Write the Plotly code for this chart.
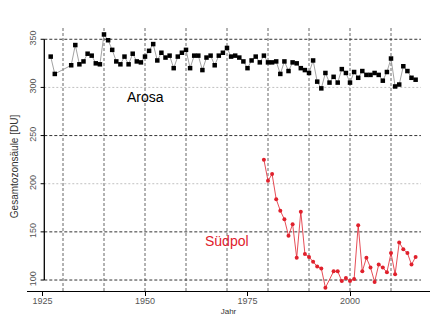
import plotly.graph_objects as go

arosa_years = [1927, 1928] + list(range(1932, 2017))
arosa_du = [332, 314,
            323, 344, 324, 327, 335, 333, 325, 324,
            355, 349, 339, 327, 324, 332, 324, 335, 327, 326,
            332, 338, 345, 328, 336, 331, 333, 320, 332, 336,
            339, 320, 333, 333, 318, 331, 333, 323, 333, 336,
            341, 332, 333, 331, 327, 320, 328, 332, 326, 333,
            326, 326, 327, 314, 327, 317, 326, 325, 320, 318,
            315, 328, 306, 299, 315, 305, 311, 305, 319, 315,
            305, 316, 310, 317, 313, 313, 315, 313, 307, 316,
            330, 301, 303, 322, 317, 310, 308]

sp_years = list(range(1979, 1995)) + list(range(1996, 2017))
sp_du = [225, 203, 210, 184, 172, 163, 146, 158, 123, 171,
         127, 124, 119, 114, 112, 92,
         109, 109, 99, 102, 99, 101, 157, 109, 123, 113,
         98, 116, 113, 108, 128, 106, 139, 132, 128, 116, 124]

x_ticks = [1925, 1950, 1975, 2000]
y_ticks = [100, 150, 200, 250, 300, 350]
v_grid = [1930, 1940, 1950, 1960, 1970, 1980, 1990, 2000, 2010]
h_grid_dark = [100, 150, 250, 350]
h_grid_light = [200, 300]

FONT = "Liberation Sans, Arial, sans-serif"
RED = "#e0202c"

X0, X1 = 1921.22, 2019.51
Y0, Y1 = 88.6, 361.7
yaxis_x = 1925.44      # position of the drawn y axis line
hgrid_end = 2017.3

fig = go.Figure()

shapes = []
for gx in v_grid:
    shapes.append(dict(type="line", xref="x", yref="paper", x0=gx, x1=gx, y0=0, y1=1,
                       line=dict(color="#666666", width=1, dash="3px,2px"), layer="below"))
for gy in h_grid_dark:
    shapes.append(dict(type="line", xref="x", yref="y", x0=yaxis_x, x1=hgrid_end, y0=gy, y1=gy,
                       line=dict(color="#333333", width=1, dash="3px,2px"), layer="below"))
for gy in h_grid_light:
    shapes.append(dict(type="line", xref="x", yref="y", x0=yaxis_x, x1=hgrid_end, y0=gy, y1=gy,
                       line=dict(color="#c0c0c0", width=1, dash="2px,2px"), layer="below"))
# y axis line + ticks (R style, from first to last tick)
shapes.append(dict(type="line", xref="x", yref="y", x0=yaxis_x, x1=yaxis_x,
                   y0=y_ticks[0], y1=y_ticks[-1], line=dict(color="black", width=1.3)))
for t in y_ticks:
    shapes.append(dict(type="line", xref="x", yref="y", x0=yaxis_x - 0.9, x1=yaxis_x,
                       y0=t, y1=t, line=dict(color="black", width=1)))

fig.add_trace(go.Scatter(x=arosa_years, y=arosa_du, mode="lines+markers",
                         line=dict(color="#8a8a8a", width=0.8),
                         marker=dict(symbol="square", size=4.5, color="black"),
                         cliponaxis=False, showlegend=False))
fig.add_trace(go.Scatter(x=sp_years, y=sp_du, mode="lines+markers",
                         line=dict(color=RED, width=0.8),
                         marker=dict(symbol="circle", size=4, color=RED),
                         cliponaxis=False, showlegend=False))

fig.add_annotation(x=1950, y=290, text="Arosa", showarrow=False,
                   font=dict(family=FONT, size=14, color="black"))
fig.add_annotation(x=1970, y=141, text="Südpol", showarrow=False,
                   font=dict(family=FONT, size=14, color=RED))
fig.add_annotation(xref="paper", yref="paper", x=-0.032, y=0.475, text="Gesamtozonsäule [DU]",
                   textangle=-90, showarrow=False, xanchor="center", yanchor="middle",
                   font=dict(family=FONT, size=10, color="#333333"))

# page body has an 8px default margin, so the figure is offset by 8px
fig.update_layout(
    width=432, height=315,
    margin=dict(l=19, r=10, t=20, b=32, autoexpand=False),
    paper_bgcolor="white", plot_bgcolor="white",
    font=dict(family=FONT),
    shapes=shapes,
    xaxis=dict(range=[X0, X1], showgrid=False, zeroline=False, automargin=False,
               showline=True, linecolor="black", linewidth=1.3,
               ticks="outside", ticklen=4, tickcolor="black", ticklabelstandoff=-3,
               tickvals=x_ticks, tickfont=dict(size=9, color="#555555", family=FONT),
               title=dict(text="Jahr", font=dict(size=8, color="#333333", family=FONT), standoff=3)),
    yaxis=dict(range=[Y0, Y1], showgrid=False, zeroline=False, showline=False, automargin=False,
               anchor="free", position=0.026,
               ticks="", tickvals=y_ticks, tickangle=-90,
               tickfont=dict(size=9, color="#555555", family=FONT)),
)

fig.write_html("out.html")
